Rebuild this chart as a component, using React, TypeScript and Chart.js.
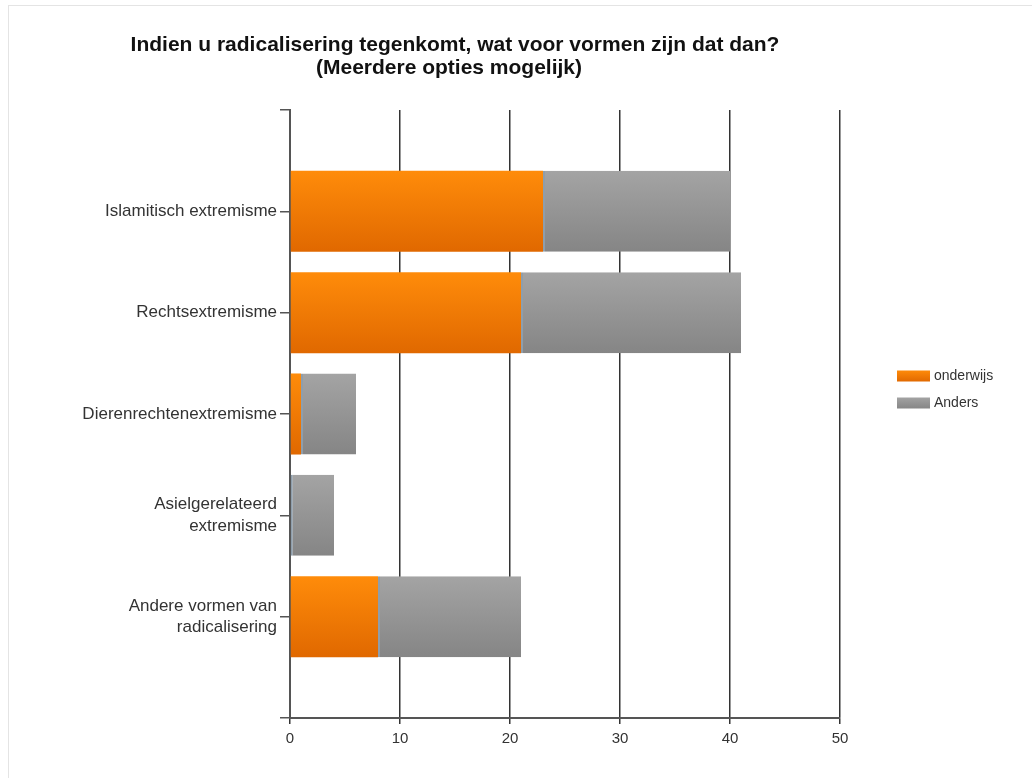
import React, { useEffect, useRef } from 'react';
import { Chart, registerables } from 'chart.js';

Chart.register(...registerables);

const categories: (string | string[])[] = [
  '',
  'Islamitisch extremisme',
  'Rechtsextremisme',
  'Dierenrechtenextremisme',
  ['Asielgerelateerd', 'extremisme'],
  ['Andere vormen van', 'radicalisering'],
  '',
];
const onderwijs = [null, 23, 21, 1, 0, 8, null];
const anders = [null, 17, 20, 5, 4, 13, null];
const seriesNames = ['onderwijs', 'Anders'];
const xMin = 0;
const xMax = 50;
const xStep = 10;
const titleLines = [
  'Indien u radicalisering tegenkomt, wat voor vormen zijn dat dan?',
  '(Meerdere opties mogelijk)',
];

const ORANGE_TOP = '#ff8c0a';
const ORANGE_BOT = '#e06800';
const GRAY_TOP = '#a4a4a4';
const GRAY_BOT = '#858585';
const FONT = '"Liberation Sans", Arial, sans-serif';

function barGradient(c: any, top: string, bottom: string) {
  const chart = c.chart;
  const ys = chart.scales && chart.scales.y;
  if (!ys || c.dataIndex == null) return bottom;
  const center = ys.getPixelForValue(c.dataIndex);
  if (!Number.isFinite(center)) return bottom;
  const half = 41;
  const g = chart.ctx.createLinearGradient(0, center - half, 0, center + half);
  g.addColorStop(0, top);
  g.addColorStop(1, bottom);
  return g;
}

const titlePlugin = {
  id: 'customTitle',
  afterDraw(chart: any) {
    const ctx = chart.ctx;
    ctx.save();
    ctx.font = `bold 21px ${FONT}`;
    ctx.fillStyle = '#111';
    ctx.textAlign = 'center';
    ctx.textBaseline = 'middle';
    ctx.fillText(titleLines[0], 455, 45);
    ctx.fillText(titleLines[1], 449, 68);
    ctx.restore();
  },
};

const legendPlugin = {
  id: 'customLegend',
  afterDraw(chart: any) {
    const ctx = chart.ctx;
    ctx.save();
    chart.data.datasets.forEach((ds: any, i: number) => {
      const cy = 376 + i * 27;
      const g = ctx.createLinearGradient(0, cy - 6, 0, cy + 6);
      g.addColorStop(0, i === 0 ? ORANGE_TOP : GRAY_TOP);
      g.addColorStop(1, i === 0 ? ORANGE_BOT : GRAY_BOT);
      ctx.fillStyle = g;
      ctx.fillRect(897, cy - 5.5, 33, 11);
      ctx.font = `14px ${FONT}`;
      ctx.fillStyle = '#333';
      ctx.textAlign = 'left';
      ctx.textBaseline = 'middle';
      ctx.fillText(ds.label, 934, cy);
    });
    ctx.restore();
  },
};

export default function App() {
  const ref = useRef<HTMLCanvasElement>(null);
  useEffect(() => {
    if (!ref.current) return;
    const chart = new Chart(ref.current, {
      type: 'bar',
      data: {
        labels: categories as any,
        datasets: [
          {
            label: seriesNames[0],
            data: onderwijs as any,
            backgroundColor: (c: any) => barGradient(c, ORANGE_TOP, ORANGE_BOT),
            borderWidth: 0,
          },
          {
            label: seriesNames[1],
            data: anders as any,
            backgroundColor: (c: any) => barGradient(c, GRAY_TOP, GRAY_BOT),
            borderColor: '#8e9eac',
            borderWidth: { left: 2, right: 0, top: 0, bottom: 0 } as any,
            borderSkipped: false as any,
          },
        ],
      },
      options: {
        indexAxis: 'y',
        responsive: false,
        animation: false,
        devicePixelRatio: 1,
        layout: { padding: { top: 110, right: 192, bottom: 20, left: 0 } },
        datasets: {
          bar: { categoryPercentage: 1, barPercentage: 0.8 },
        },
        scales: {
          y: {
            stacked: true,
            offset: false,
            grid: {
              offset: false,
              drawOnChartArea: false,
              drawTicks: true,
              tickLength: 10,
              color: '#555',
              lineWidth: 1.5,
            },
            border: { display: true, color: '#555', width: 2 },
            ticks: {
              autoSkip: false,
              padding: 3,
              color: '#333',
              font: { family: FONT, size: 17, lineHeight: 1.25 },
            },
            afterFit: (s: any) => {
              s.width = 290;
            },
          },
          x: {
            stacked: true,
            min: xMin,
            max: xMax,
            ticks: {
              stepSize: xStep,
              color: '#333',
              padding: 6,
              font: { family: FONT, size: 15 },
            },
            grid: {
              color: '#333',
              lineWidth: 1.5,
              tickLength: 6,
              drawOnChartArea: true,
            },
            border: { display: true, color: '#555', width: 2 },
            afterFit: (s: any) => {
              s.height = 40;
            },
          },
        },
        plugins: {
          legend: { display: false },
          title: { display: false },
          tooltip: { enabled: false },
        },
      },
      plugins: [titlePlugin, legendPlugin],
    });
    return () => chart.destroy();
  }, []);

  return (
    <>
      <div
        style={{
          position: 'absolute',
          left: 8,
          top: 5,
          width: 1024,
          height: 773,
          boxSizing: 'border-box',
          borderLeft: '1px solid #e4e4e4',
          borderTop: '1px solid #e4e4e4',
        }}
      />
      <canvas
        ref={ref}
        width={1032}
        height={778}
        style={{ position: 'absolute', left: 0, top: 0, width: 1032, height: 778 }}
      />
    </>
  );
}
